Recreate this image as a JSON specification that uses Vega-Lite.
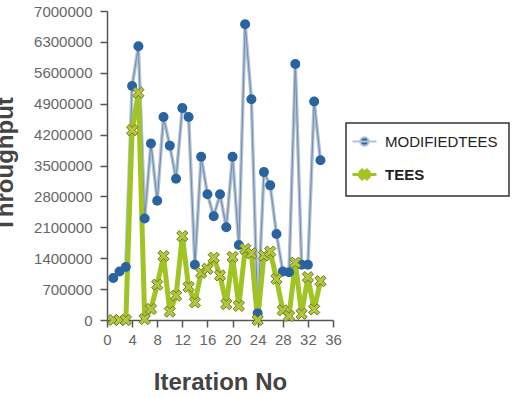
{
  "$schema": "https://vega.github.io/schema/vega-lite/v6.json",
  "autosize": "none",
  "width": 226,
  "height": 309,
  "padding": {"left": 107, "top": 11, "right": 181, "bottom": 78},
  "background": "white",
  "config": {
    "view": {"stroke": null},
    "font": "Liberation Sans",
    "axis": {
      "grid": false,
      "labelFlush": false,
      "domainColor": "#555555",
      "domainWidth": 1.5,
      "tickColor": "#555555",
      "tickWidth": 1.5,
      "tickSize": 7,
      "labelColor": "#666666",
      "labelFontSize": 15,
      "labelFont": "Liberation Sans",
      "titleFont": "Liberation Sans",
      "titleFontSize": 24,
      "titleFontWeight": "bold",
      "titleColor": "#444444"
    }
  },
  "data": {
    "values": [
      {"iter": 1, "series": "MODIFIEDTEES", "value": 950000},
      {"iter": 2, "series": "MODIFIEDTEES", "value": 1100000},
      {"iter": 3, "series": "MODIFIEDTEES", "value": 1200000},
      {"iter": 4, "series": "MODIFIEDTEES", "value": 5300000},
      {"iter": 5, "series": "MODIFIEDTEES", "value": 6200000},
      {"iter": 6, "series": "MODIFIEDTEES", "value": 2300000},
      {"iter": 7, "series": "MODIFIEDTEES", "value": 4000000},
      {"iter": 8, "series": "MODIFIEDTEES", "value": 2700000},
      {"iter": 9, "series": "MODIFIEDTEES", "value": 4600000},
      {"iter": 10, "series": "MODIFIEDTEES", "value": 3950000},
      {"iter": 11, "series": "MODIFIEDTEES", "value": 3200000},
      {"iter": 12, "series": "MODIFIEDTEES", "value": 4800000},
      {"iter": 13, "series": "MODIFIEDTEES", "value": 4600000},
      {"iter": 14, "series": "MODIFIEDTEES", "value": 1250000},
      {"iter": 15, "series": "MODIFIEDTEES", "value": 3700000},
      {"iter": 16, "series": "MODIFIEDTEES", "value": 2850000},
      {"iter": 17, "series": "MODIFIEDTEES", "value": 2350000},
      {"iter": 18, "series": "MODIFIEDTEES", "value": 2850000},
      {"iter": 19, "series": "MODIFIEDTEES", "value": 2100000},
      {"iter": 20, "series": "MODIFIEDTEES", "value": 3700000},
      {"iter": 21, "series": "MODIFIEDTEES", "value": 1700000},
      {"iter": 22, "series": "MODIFIEDTEES", "value": 6700000},
      {"iter": 23, "series": "MODIFIEDTEES", "value": 5000000},
      {"iter": 24, "series": "MODIFIEDTEES", "value": 150000},
      {"iter": 25, "series": "MODIFIEDTEES", "value": 3350000},
      {"iter": 26, "series": "MODIFIEDTEES", "value": 3050000},
      {"iter": 27, "series": "MODIFIEDTEES", "value": 1950000},
      {"iter": 28, "series": "MODIFIEDTEES", "value": 1100000},
      {"iter": 29, "series": "MODIFIEDTEES", "value": 1080000},
      {"iter": 30, "series": "MODIFIEDTEES", "value": 5800000},
      {"iter": 31, "series": "MODIFIEDTEES", "value": 1250000},
      {"iter": 32, "series": "MODIFIEDTEES", "value": 1250000},
      {"iter": 33, "series": "MODIFIEDTEES", "value": 4950000},
      {"iter": 34, "series": "MODIFIEDTEES", "value": 3620000},
      {"iter": 1, "series": "TEES", "value": 0},
      {"iter": 2, "series": "TEES", "value": 0},
      {"iter": 3, "series": "TEES", "value": 0},
      {"iter": 4, "series": "TEES", "value": 4300000},
      {"iter": 5, "series": "TEES", "value": 5150000},
      {"iter": 6, "series": "TEES", "value": 20000},
      {"iter": 7, "series": "TEES", "value": 250000},
      {"iter": 8, "series": "TEES", "value": 800000},
      {"iter": 9, "series": "TEES", "value": 1450000},
      {"iter": 10, "series": "TEES", "value": 190000},
      {"iter": 11, "series": "TEES", "value": 550000},
      {"iter": 12, "series": "TEES", "value": 1900000},
      {"iter": 13, "series": "TEES", "value": 750000},
      {"iter": 14, "series": "TEES", "value": 400000},
      {"iter": 15, "series": "TEES", "value": 1070000},
      {"iter": 16, "series": "TEES", "value": 1160000},
      {"iter": 17, "series": "TEES", "value": 1410000},
      {"iter": 18, "series": "TEES", "value": 1010000},
      {"iter": 19, "series": "TEES", "value": 360000},
      {"iter": 20, "series": "TEES", "value": 1430000},
      {"iter": 21, "series": "TEES", "value": 320000},
      {"iter": 22, "series": "TEES", "value": 1610000},
      {"iter": 23, "series": "TEES", "value": 1510000},
      {"iter": 24, "series": "TEES", "value": 0},
      {"iter": 25, "series": "TEES", "value": 1460000},
      {"iter": 26, "series": "TEES", "value": 1550000},
      {"iter": 27, "series": "TEES", "value": 930000},
      {"iter": 28, "series": "TEES", "value": 220000},
      {"iter": 29, "series": "TEES", "value": 90000},
      {"iter": 30, "series": "TEES", "value": 1300000},
      {"iter": 31, "series": "TEES", "value": 140000},
      {"iter": 32, "series": "TEES", "value": 970000},
      {"iter": 33, "series": "TEES", "value": 240000},
      {"iter": 34, "series": "TEES", "value": 880000}
    ]
  },
  "encoding": {
    "x": {
      "field": "iter",
      "type": "quantitative",
      "scale": {"domain": [0, 36], "nice": false},
      "axis": {
        "title": "Iteration No",
        "values": [0, 4, 8, 12, 16, 20, 24, 28, 32, 36],
        "labelPadding": 5,
        "titleBaseline": "alphabetic",
        "titleY": 69
      }
    },
    "y": {
      "field": "value",
      "type": "quantitative",
      "scale": {"domain": [0, 7000000], "nice": false},
      "axis": {
        "title": "Throughput",
        "values": [0, 700000, 1400000, 2100000, 2800000, 3500000, 4200000, 4900000, 5600000, 6300000, 7000000],
        "format": "d",
        "labelPadding": 8,
        "titleAngle": -90,
        "titleBaseline": "alphabetic",
        "titleX": -95,
        "titleY": 153
      }
    }
  },
  "layer": [
    {
      "transform": [{"filter": "datum.series == 'MODIFIEDTEES'"}],
      "mark": {"type": "line", "strokeWidth": 3.5, "strokeJoin": "round"},
      "encoding": {
        "color": {
          "field": "series",
          "type": "nominal",
          "scale": {"domain": ["MODIFIEDTEES", "TEES"], "range": ["#b3c2d5", "#a0c423"]},
          "legend": {
            "title": null,
            "orient": "none",
            "legendX": 239,
            "legendY": 112,
            "direction": "vertical",
            "padding": 11,
            "rowPadding": 14,
            "symbolSize": 576,
            "symbolStrokeWidth": 2,
            "labelFontSize": 15,
            "labelFont": "Liberation Sans",
            "labelColor": "#222222",
            "labelOffset": 13,
            "fillColor": "white",
            "strokeColor": "#333333",
            "encode": {
              "legend": {"update": {"strokeWidth": {"value": 1.5}}},
              "labels": {
                "update": {
                  "fontWeight": {"signal": "datum.value == 'TEES' ? 'bold' : 'normal'"}
                }
              },
              "symbols": {
                "update": {
                  "shape": {"signal": "datum.value == 'TEES' ? 'M-1,0L1,0M-0.198,0.368L0,0.17L0.198,0.368L0.368,0.198L0.17,0L0.368,-0.198L0.198,-0.368L0,-0.17L-0.198,-0.368L-0.368,-0.198L-0.17,0L-0.368,0.198Z' : 'M-1,0L1,0M-0.35,0A0.35,0.35,0,1,1,0.35,0A0.35,0.35,0,1,1,-0.35,0Z'"},
                  "fill": {"signal": "datum.value == 'TEES' ? '#b4c640' : '#2a64a0'"},
                  "stroke": {"signal": "datum.value == 'TEES' ? '#a0c423' : '#3a72ae'"},
                  "strokeWidth": {"signal": "datum.value == 'TEES' ? 3 : 2"},
                  "opacity": {"value": 1}
                }
              }
            }
          }
        }
      }
    },
    {
      "transform": [{"filter": "datum.series == 'MODIFIEDTEES'"}],
      "mark": {"type": "line", "strokeWidth": 1, "color": "#6f8db0", "strokeJoin": "round"},
      "encoding": {}
    },
    {
      "transform": [{"filter": "datum.series == 'TEES'"}],
      "mark": {"type": "line", "strokeWidth": 5, "strokeJoin": "round"},
      "encoding": {
        "color": {"field": "series", "type": "nominal"}
      }
    },
    {
      "transform": [{"filter": "datum.series == 'MODIFIEDTEES'"}],
      "mark": {"type": "point", "shape": "circle", "filled": true, "size": 100, "color": "#2a64a0", "opacity": 1},
      "encoding": {}
    },
    {
      "transform": [{"filter": "datum.series == 'TEES'"}],
      "mark": {
        "type": "point",
        "shape": "M-0.495,0.919L0,0.424L0.495,0.919L0.919,0.495L0.424,0L0.919,-0.495L0.495,-0.919L0,-0.424L-0.495,-0.919L-0.919,-0.495L-0.424,0L-0.919,0.495Z",
        "filled": true,
        "size": 150,
        "fill": "#b4c640",
        "stroke": "#6d7d22",
        "strokeWidth": 1,
        "opacity": 1
      },
      "encoding": {}
    }
  ]
}
